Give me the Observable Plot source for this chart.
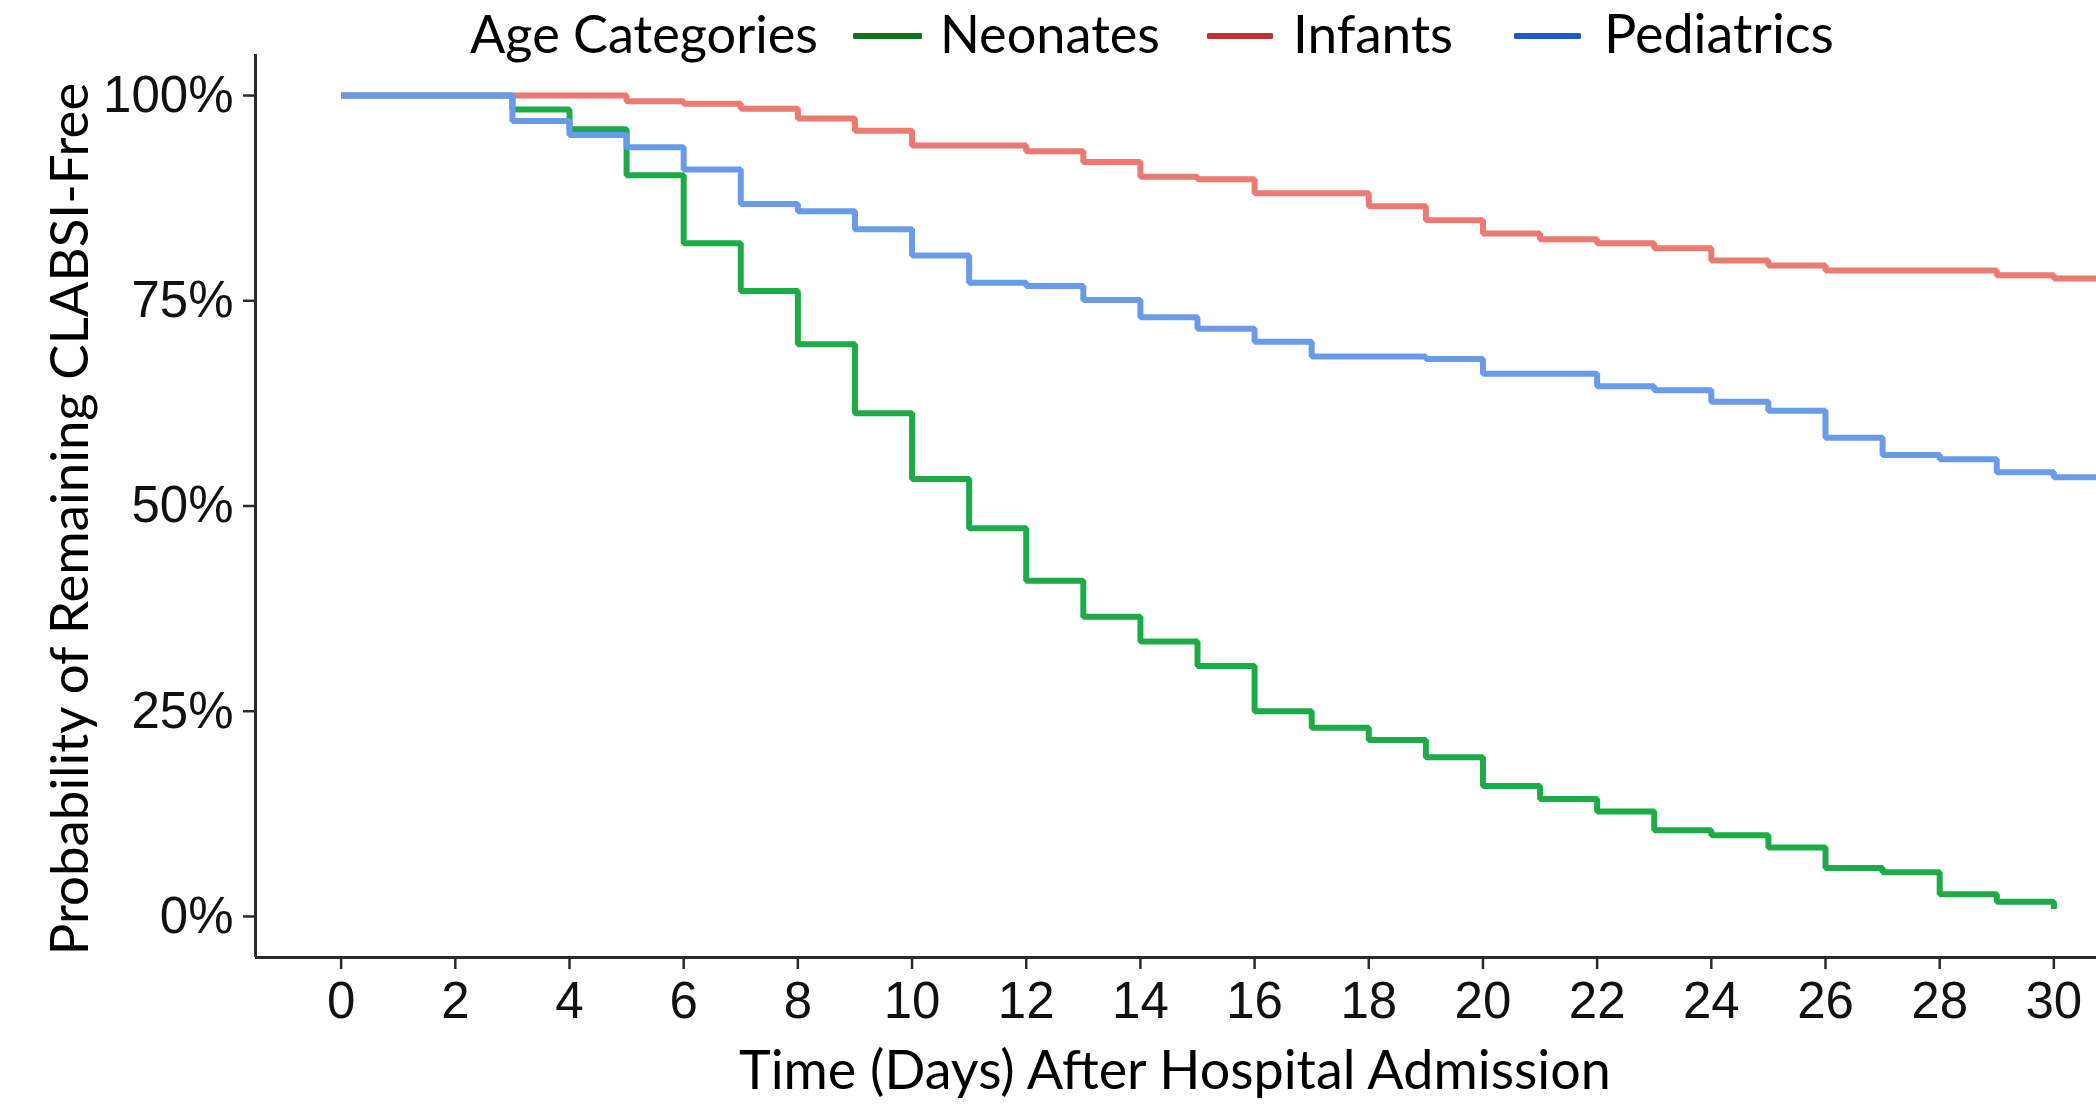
<!DOCTYPE html>
<html>
<head>
<meta charset="utf-8">
<script src="https://cdn.jsdelivr.net/npm/d3@7"></script>
<script src="https://cdn.jsdelivr.net/npm/@observablehq/plot@0.6"></script>
<style>
  html, body { margin: 0; padding: 0; background: #ffffff; overflow: hidden; }
  #wrap { position: relative; width: 2096px; height: 1110px; background: #ffffff; }
  #wrap > svg { position: absolute; left: 0; top: 0; }
</style>
</head>
<body>
<div id="wrap"></div>
<script>
// ---------- data ----------
const categories = ["Neonates", "Infants", "Pediatrics"];
const lineColors = ["#1DAB47", "#EA7A72", "#6A9BEA"];
const legendColors = ["#0E7418", "#C0302F", "#1F5CC2"];
const legendTitle = "Age Categories";
const xTitle = "Time (Days) After Hospital Admission";
const yTitle = "Probability of Remaining CLABSI-Free";

const neonatesDays = [0, 3, 4, 5, 6, 7, 8, 9, 10, 11, 12, 13, 14, 15, 16, 17, 18, 19, 20, 21, 22, 23, 24, 25, 26, 27, 28, 29, 30];
const neonatesSurv = [100, 98.3, 95.9, 90.3, 82.0, 76.2, 69.7, 61.3, 53.3, 47.3, 40.9, 36.5, 33.5, 30.5, 25.0, 23.0, 21.5, 19.4, 15.9, 14.3, 12.8, 10.5, 9.9, 8.4, 5.9, 5.4, 2.7, 1.8, 0.9];

const infantsDays = [0, 5, 6, 7, 8, 9, 10, 12, 13, 14, 15, 16, 18, 19, 20, 21, 22, 23, 24, 25, 26, 29, 30, 31.5];
const infantsSurv = [100, 99.3, 99.0, 98.4, 97.2, 95.7, 93.9, 93.2, 91.9, 90.1, 89.8, 88.1, 86.5, 84.8, 83.2, 82.5, 82.0, 81.4, 79.9, 79.3, 78.7, 78.1, 77.7, 77.7];

const pediatricsDays = [0, 3, 4, 5, 6, 7, 8, 9, 10, 11, 12, 13, 14, 15, 16, 17, 19, 20, 22, 23, 24, 25, 26, 27, 28, 29, 30, 31.5];
const pediatricsSurv = [100, 96.9, 95.2, 93.7, 91.0, 86.8, 85.9, 83.7, 80.5, 77.2, 76.8, 75.1, 73.0, 71.6, 70.0, 68.2, 67.9, 66.1, 64.6, 64.1, 62.7, 61.6, 58.3, 56.2, 55.7, 54.1, 53.5, 53.5];

const xTicks = [0, 2, 4, 6, 8, 10, 12, 14, 16, 18, 20, 22, 24, 26, 28, 30];
const yTicks = [0, 0.25, 0.5, 0.75, 1];
const yTickLabels = ["0%", "25%", "50%", "75%", "100%"];

// ---------- build rows ----------
const seriesDays = [neonatesDays, infantsDays, pediatricsDays];
const seriesSurv = [neonatesSurv, infantsSurv, pediatricsSurv];
const rows = [];
categories.forEach((cat, i) => {
  seriesDays[i].forEach((d, j) => rows.push({group: cat, day: d, surv: seriesSurv[i][j] / 100}));
});

const W = 2096, H = 1110;
const axisColor = "#2a2a2a";

const chart = Plot.plot({
  width: W,
  height: H,
  marginLeft: 255,
  marginRight: 0,
  marginTop: 54,
  marginBottom: 153,
  style: {fontFamily: "'Liberation Sans', Arial, sans-serif", fontSize: "51px", background: "#ffffff", color: "#111"},
  x: {domain: [-1.5, 31.5], range: [255, 2139]},
  y: {domain: [-0.05, 1.05]},
  color: {domain: categories, range: lineColors},
  marks: [
    Plot.line(rows, {x: "day", y: "surv", z: "group", stroke: "group", curve: "step-after",
      strokeWidth: 6, strokeLinejoin: "miter", strokeLinecap: "butt"}),
    Plot.axisX({ticks: xTicks, tickSize: 12, tickPadding: 12, tickFormat: (d) => String(d),
      stroke: axisColor, strokeWidth: 2.5, fill: "#111", fontSize: 51, label: null}),
    Plot.axisY({ticks: yTicks, tickSize: 12, tickPadding: 10,
      tickFormat: (d) => yTickLabels[yTicks.indexOf(d)],
      stroke: axisColor, strokeWidth: 2.5, fill: "#111", fontSize: 51, label: null}),
    Plot.ruleX([-1.5], {stroke: axisColor, strokeWidth: 3}),
    Plot.ruleY([-0.05], {stroke: axisColor, strokeWidth: 3})
  ]
});

const wrap = document.getElementById("wrap");
wrap.appendChild(chart);

// ---------- overlay: legend and axis titles ----------
const overlay = d3.select(wrap).append("svg")
  .attr("width", W).attr("height", H)
  .style("pointer-events", "none");

function fitText(sel, target) {
  const fs = parseFloat(sel.attr("font-size"));
  const len = sel.node().getComputedTextLength();
  if (len > 0) sel.attr("font-size", fs * target / len);
  return sel;
}

const titleFont = "Lato, 'Open Sans', sans-serif";

function addText(str, x, y, target, anchor) {
  const t = overlay.append("text")
    .attr("x", x).attr("y", y)
    .attr("font-family", titleFont)
    .attr("font-size", 52)
    .attr("fill", "#000")
    .attr("text-anchor", anchor || "start")
    .text(str);
  fitText(t, target);
  return t;
}

// legend
addText(legendTitle, 470, 53, 348);
const legendItems = [
  {sx: 853, sw: 69, tx: 940, tw: 220},
  {sx: 1207, sw: 66, tx: 1293, tw: 160},
  {sx: 1514, sw: 67, tx: 1604, tw: 230}
];
categories.forEach((cat, i) => {
  const it = legendItems[i];
  overlay.append("rect")
    .attr("x", it.sx).attr("y", 33).attr("width", it.sw).attr("height", 6)
    .attr("rx", 1.5)
    .attr("fill", legendColors[i]);
  addText(cat, it.tx, 53, it.tw);
});

// x title
addText(xTitle, 739, 1089, 872);

// y title
const yt = overlay.append("text")
  .attr("transform", "translate(88,519) rotate(-90)")
  .attr("font-family", titleFont)
  .attr("font-size", 52)
  .attr("fill", "#000")
  .attr("text-anchor", "middle")
  .text(yTitle);
fitText(yt, 873);
</script>
</body>
</html>
